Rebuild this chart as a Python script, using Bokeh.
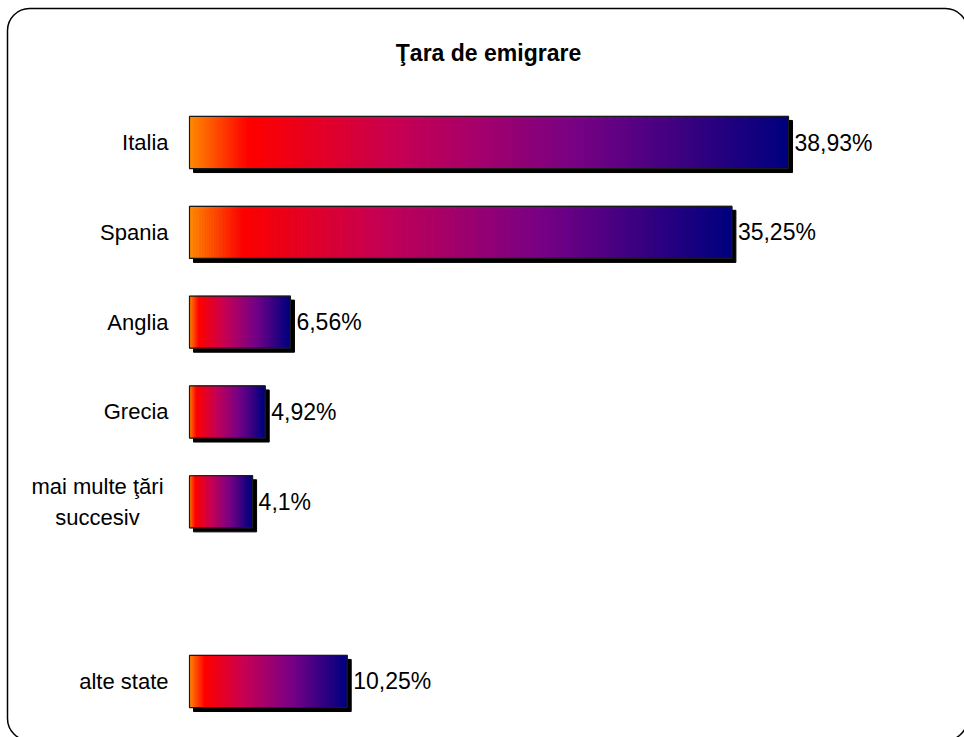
from bokeh.plotting import figure
from bokeh.models import ColumnDataSource, Range1d, BoxAnnotation, Label
from bokeh.embed import file_html
from bokeh.resources import INLINE
from bokeh.core.properties import value

# ---- data ----
title_text = "Ţara de emigrare"
categories = ["Italia", "Spania", "Anglia", "Grecia", "mai multe ţări\nsuccesiv", "", "alte state"]
values = [38.93, 35.25, 6.56, 4.92, 4.1, None, 10.25]
value_labels = ["38,93%", "35,25%", "6,56%", "4,92%", "4,1%", "", "10,25%"]

# ---- layout constants ----
W, H = 964, 737
SX = 15.387   # px per percent
SY = 89.83    # px per category slot
X0 = -189 / SX
Y_TOP = -142 / SY
BAR_H = 0.58
FONT = "Liberation Sans"

p = figure(width=W, height=H, output_backend="svg", toolbar_location=None,
           x_range=Range1d(X0, X0 + W / SX),
           y_range=Range1d(Y_TOP + H / SY, Y_TOP),
           min_border=0, x_axis_type=None, y_axis_type=None)
p.grid.visible = False
p.outline_line_color = None
p.background_fill_color = "white"
p.border_fill_color = "white"

idx = [i for i, v in enumerate(values) if v is not None]
vals = [values[i] for i in idx]

# gradient stops (position, rgb)
stops = [(0.0, (255, 140, 0)), (0.1, (255, 0, 0)), (0.35, (200, 0, 85)),
         (0.65, (122, 0, 136)), (1.0, (0, 0, 128))]

def grad(t):
    for (t0, c0), (t1, c1) in zip(stops[:-1], stops[1:]):
        if t <= t1:
            f = (t - t0) / (t1 - t0) if t1 > t0 else 0
            return "#%02x%02x%02x" % tuple(int(round(a + (b - a) * f)) for a, b in zip(c0, c1))
    return "#%02x%02x%02x" % stops[-1][1]

# shadows
dx, dy = 4 / SX, 4 / SY
p.hbar(y=[i + dy for i in idx], left=dx, right=[v + dx for v in vals], height=BAR_H,
       fill_color="black", line_color="black")

# gradient slices
N = 300
sl_y, sl_l, sl_r, sl_c = [], [], [], []
for i, v in zip(idx, vals):
    for k in range(N):
        sl_y.append(i)
        sl_l.append(v * k / N)
        sl_r.append(v * (k + 1) / N)
        sl_c.append(grad((k + 0.5) / N))
src = ColumnDataSource(dict(y=sl_y, left=sl_l, right=sl_r, c=sl_c))
p.hbar(y="y", left="left", right="right", height=BAR_H, fill_color="c",
       line_color="c", line_width=0.8, source=src)

# outlines
p.hbar(y=idx, left=0, right=vals, height=BAR_H, fill_color=None,
       line_color="#1a1a1a", line_width=1.2)

# value labels
p.text(x=vals, y=idx, text=[value_labels[i] for i in idx], x_offset=6,
       text_align="left", text_baseline="middle", text_font=value(FONT),
       text_font_size="23px", text_color="black")

# category labels
single = [i for i, c in enumerate(categories) if c and "\n" not in c]
multi = [i for i, c in enumerate(categories) if "\n" in c]
p.text(x=0, y=single, text=[categories[i] for i in single], x_offset=-21,
       text_align="right", text_baseline="middle", text_font=value(FONT),
       text_font_size="22px", text_color="black")
p.text(x=0, y=multi, text=[categories[i] for i in multi], x_offset=-92,
       text_align="center", text_baseline="middle", text_font=value(FONT),
       text_font_size="22px", text_color="black", text_line_height=1.25)

# title
p.add_layout(Label(x=X0 + 488 / SX, y=Y_TOP + 52 / SY, text=title_text,
                   text_align="center", text_baseline="middle", text_font=FONT,
                   text_font_size="23px", text_font_style="bold", text_color="black"))

# rounded frame
p.add_layout(BoxAnnotation(left=X0 + 7 / SX, right=X0 + 967 / SX,
                           top=Y_TOP + 8 / SY, bottom=Y_TOP + 740 / SY,
                           fill_color=None, fill_alpha=0, line_color="black",
                           line_alpha=1.0, line_width=1.5, border_radius=22))

open("out.html", "w").write(file_html(p, INLINE))
